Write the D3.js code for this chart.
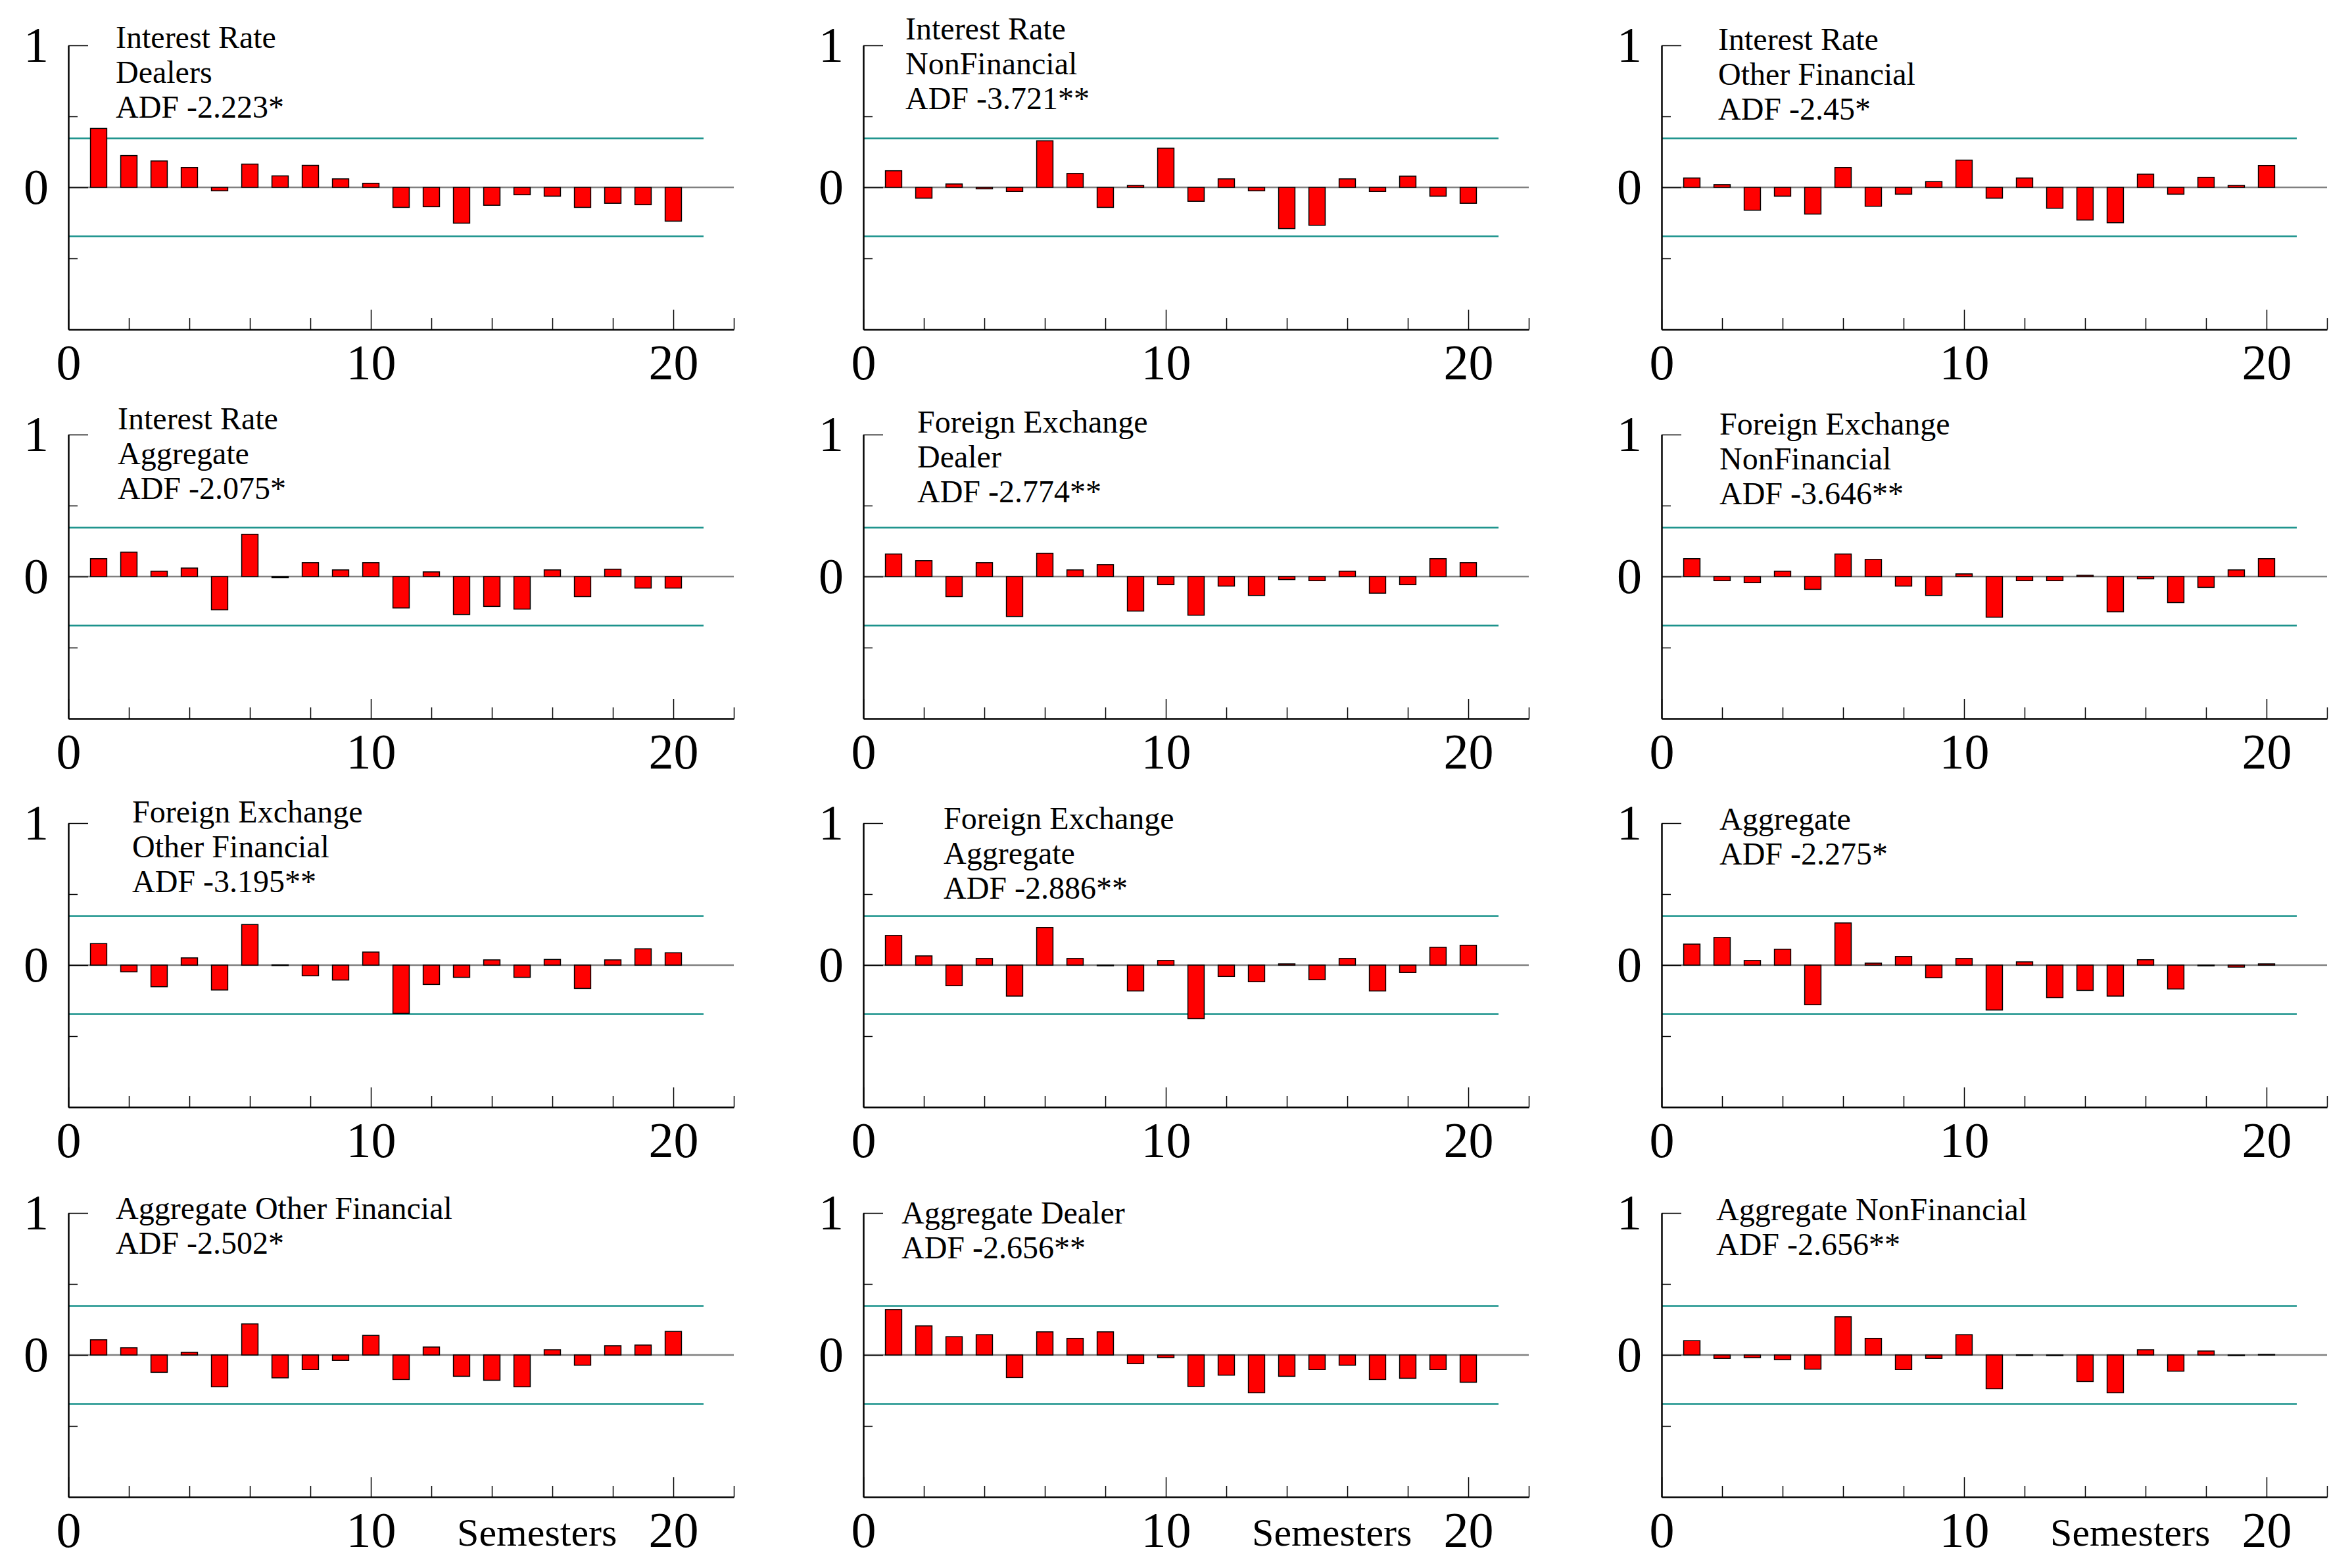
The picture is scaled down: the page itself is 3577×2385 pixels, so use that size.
<!DOCTYPE html>
<html>
<head>
<meta charset="utf-8">
<script src="https://cdn.jsdelivr.net/npm/d3@7"></script>
<style>
  body { margin: 0; background: #fff; }
  svg text { font-family: "Liberation Serif", "Times New Roman", serif; }
</style>
</head>
<body>
<div id="chart"></div>
<script>
// Residual autocorrelations, lags 1..20, one array per panel
const lags = d3.range(1, 21);
const band = 0.345;

const irDealers      = [0.415, 0.224, 0.186, 0.140, -0.024, 0.164, 0.081, 0.155, 0.060, 0.029, -0.141, -0.136, -0.252, -0.126, -0.052, -0.062, -0.141, -0.112, -0.122, -0.238];
const irNonFin       = [0.117, -0.076, 0.024, -0.010, -0.029, 0.328, 0.098, -0.141, 0.014, 0.276, -0.098, 0.060, -0.024, -0.290, -0.267, 0.060, -0.029, 0.079, -0.062, -0.112];
const irOtherFin     = [0.066, 0.019, -0.161, -0.062, -0.188, 0.140, -0.133, -0.048, 0.041, 0.192, -0.076, 0.066, -0.147, -0.230, -0.249, 0.093, -0.048, 0.071, 0.014, 0.154];
const irAggregate    = [0.126, 0.172, 0.038, 0.060, -0.234, 0.298, -0.007, 0.098, 0.047, 0.098, -0.221, 0.033, -0.267, -0.210, -0.229, 0.047, -0.141, 0.052, -0.081, -0.081];
const fxDealer       = [0.159, 0.112, -0.141, 0.098, -0.281, 0.164, 0.047, 0.084, -0.243, -0.057, -0.272, -0.067, -0.133, -0.021, -0.029, 0.038, -0.117, -0.057, 0.126, 0.098];
const fxNonFin       = [0.126, -0.029, -0.043, 0.038, -0.090, 0.159, 0.121, -0.067, -0.133, 0.019, -0.286, -0.029, -0.029, 0.009, -0.248, -0.016, -0.183, -0.076, 0.047, 0.126];
const fxOtherFin     = [0.152, -0.047, -0.152, 0.051, -0.175, 0.286, 0.002, -0.075, -0.105, 0.092, -0.340, -0.136, -0.086, 0.037, -0.086, 0.040, -0.164, 0.037, 0.115, 0.087];
const fxAggregate    = [0.209, 0.065, -0.145, 0.047, -0.218, 0.265, 0.047, -0.002, -0.182, 0.033, -0.377, -0.080, -0.117, 0.009, -0.103, 0.047, -0.182, -0.052, 0.126, 0.140];
const aggAggregate   = [0.148, 0.195, 0.033, 0.112, -0.279, 0.297, 0.014, 0.061, -0.089, 0.047, -0.316, 0.023, -0.229, -0.178, -0.218, 0.038, -0.168, -0.005, -0.014, 0.009];
const aggOtherFin    = [0.107, 0.051, -0.122, 0.019, -0.224, 0.219, -0.161, -0.103, -0.038, 0.138, -0.173, 0.056, -0.150, -0.178, -0.224, 0.037, -0.072, 0.065, 0.070, 0.166];
const aggDealer      = [0.320, 0.205, 0.129, 0.143, -0.159, 0.163, 0.117, 0.163, -0.061, -0.019, -0.222, -0.142, -0.266, -0.150, -0.103, -0.072, -0.173, -0.164, -0.103, -0.192];
const aggNonFin      = [0.101, -0.024, -0.019, -0.033, -0.100, 0.269, 0.117, -0.103, -0.024, 0.143, -0.238, 0.001, -0.001, -0.187, -0.266, 0.037, -0.114, 0.028, -0.002, 0.004];

const titles = [
  ["Interest Rate", "Dealers", "ADF -2.223*"],
  ["Interest Rate", "NonFinancial", "ADF -3.721**"],
  ["Interest Rate", "Other Financial", "ADF -2.45*"],
  ["Interest Rate", "Aggregate", "ADF -2.075*"],
  ["Foreign Exchange", "Dealer", "ADF -2.774**"],
  ["Foreign Exchange", "NonFinancial", "ADF -3.646**"],
  ["Foreign Exchange", "Other Financial", "ADF -3.195**"],
  ["Foreign Exchange", "Aggregate", "ADF -2.886**"],
  ["Aggregate", "ADF -2.275*"],
  ["Aggregate Other Financial", "ADF -2.502*"],
  ["Aggregate Dealer", "ADF -2.656**"],
  ["Aggregate NonFinancial", "ADF -2.656**"]
];
const series = [irDealers, irNonFin, irOtherFin, irAggregate, fxDealer, fxNonFin,
                fxOtherFin, fxAggregate, aggAggregate, aggOtherFin, aggDealer, aggNonFin];
const xLabelTicks = [0, 10, 20];
const xMinorTicks = [2, 4, 6, 8, 12, 14, 16, 18, 22];
const yLabelTicks = [0, 1];
const yMinorTicks = [-0.5, 0.5];
const xAxisTitle = "Semesters";

// Layout (pixels)
const W = 3577, H = 2385;
const colX = [104, 1313, 2527];
const rowZero = [285, 877, 1468, 2061];
const plotW = 1012, halfH = 216;
// title offset from y axis / from the "1" tick, per panel
const titlePos = [[72, 4], [64, -9], [86, 7], [75, -8], [82, -3], [88, 0],
                  [97, -1], [122, 9], [88, 10], [72, 9], [58, 16], [83, 11]];

const svg = d3.select("#chart").append("svg")
    .attr("width", W).attr("height", H)
    .style("background", "#fff");

series.forEach((vals, i) => {
    const col = i % 3, row = Math.floor(i / 3);
    const x0 = colX[col], z = rowZero[row];

    const x = d3.scaleLinear().domain([0, 22]).range([x0, x0 + plotW]);
    const y = d3.scaleLinear().domain([-1, 1]).range([z + halfH, z - halfH]);
    const g = svg.append("g");

    // zero line
    g.append("line")
        .attr("x1", x(0)).attr("x2", x(22))
        .attr("y1", y(0)).attr("y2", y(0))
        .attr("stroke", "#808080").attr("stroke-width", 2.5);

    // confidence band
    [band, -band].forEach(b => {
        g.append("line")
            .attr("x1", x(0)).attr("x2", x(21))
            .attr("y1", y(b)).attr("y2", y(b))
            .attr("stroke", "#17918a").attr("stroke-width", 2.5);
    });

    // bars
    const bw = x(0.54) - x(0);
    g.selectAll("rect.bar")
        .data(lags.map((l, k) => ({ lag: l, v: vals[k] })))
        .join("rect")
        .attr("class", "bar")
        .attr("x", d => x(d.lag) - bw / 2)
        .attr("width", bw)
        .attr("y", d => y(Math.max(0, d.v)))
        .attr("height", d => Math.max(1, Math.abs(y(d.v) - y(0))))
        .attr("fill", "#ff0000")
        .attr("stroke", "#000")
        .attr("stroke-width", 1.5);

    // x axis: minor ticks, then labelled major ticks
    g.append("g")
        .attr("transform", `translate(0,${y(-1)})`)
        .call(d3.axisBottom(x).tickValues(xMinorTicks).tickSize(-17).tickSizeOuter(0).tickFormat(""))
        .call(a => a.selectAll("line").attr("stroke-width", 1.5));
    g.append("g")
        .attr("transform", `translate(0,${y(-1)})`)
        .call(d3.axisBottom(x).tickValues(xLabelTicks).tickSize(-30).tickSizeOuter(0)
              .tickPadding(22).tickFormat(d3.format("d")))
        .call(a => a.select(".domain").attr("stroke-width", 2.5))
        .call(a => a.selectAll("line").attr("stroke-width", 1.5))
        .call(a => a.selectAll("text")
              .attr("font-family", "Liberation Serif, serif")
              .attr("font-size", 76).attr("fill", "#000"));

    // y axis
    g.append("g")
        .attr("transform", `translate(${x(0)},0)`)
        .call(d3.axisLeft(y).tickValues(yMinorTicks).tickSize(-14).tickSizeOuter(0).tickFormat(""))
        .call(a => a.selectAll("line").attr("stroke-width", 1.5));
    g.append("g")
        .attr("transform", `translate(${x(0)},0)`)
        .call(d3.axisLeft(y).tickValues(yLabelTicks).tickSize(-30).tickSizeOuter(0)
              .tickPadding(30).tickFormat(d3.format("d")))
        .call(a => a.select(".domain").attr("stroke-width", 2.5))
        .call(a => a.selectAll("line").attr("stroke-width", 1.5))
        .call(a => a.selectAll("text")
              .attr("font-family", "Liberation Serif, serif")
              .attr("font-size", 76).attr("fill", "#000"));

    // panel title
    const [tdx, tdy] = titlePos[i];
    const t = g.append("text")
        .attr("x", x0 + tdx).attr("y", y(1) + tdy)
        .attr("font-size", 48).attr("fill", "#000");
    titles[i].forEach((line, k) => {
        t.append("tspan").attr("x", x0 + tdx).attr("dy", k === 0 ? 0 : 53).text(line);
    });

    if (row === 3) {
        g.append("text")
            .attr("x", x(12.85)).attr("y", y(-1) + 74)
            .attr("font-size", 60).attr("fill", "#000")
            .text(xAxisTitle);
    }
});
</script>
</body>
</html>
